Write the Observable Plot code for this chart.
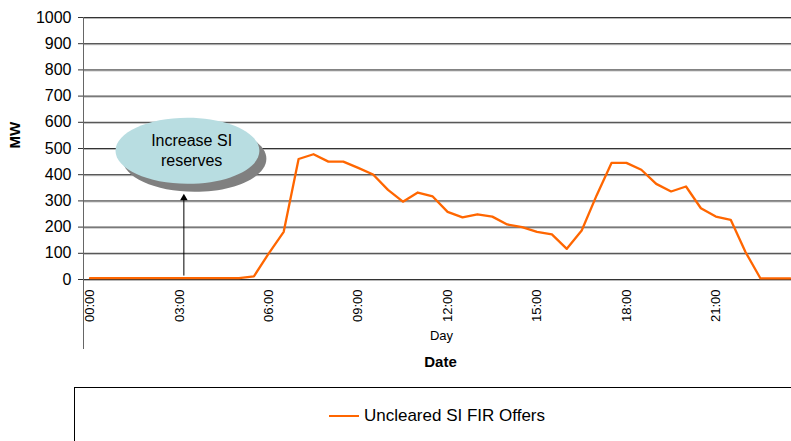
<!DOCTYPE html>
<html>
<head>
<meta charset="utf-8">
<script src="https://cdn.jsdelivr.net/npm/d3@7"></script>
<script src="https://cdn.jsdelivr.net/npm/@observablehq/plot@0.6"></script>
<style>
  html, body { margin: 0; padding: 0; background: #fff; }
  body { width: 791px; height: 441px; overflow: hidden; position: relative;
         font-family: "Liberation Sans", Arial, sans-serif; color: #000; }
  #chart svg { display: block; }
  #legend { position: absolute; left: 74px; top: 387px; width: 726px; height: 80px;
            border: 1px solid #000; box-sizing: border-box; }
  #legend .item { position: absolute; left: 0; right: 0; top: 18px; height: 20px;
                  display: flex; justify-content: center; align-items: center; }
  #legend .swatch { width: 30px; height: 0; border-top: 2.5px solid #ff6600; margin-right: 5px; }
  #legend .label { font-size: 17px; line-height: 20px; }
</style>
</head>
<body>
<div id="chart"></div>
<div id="legend"><div class="item"><span class="swatch"></span><span class="label" id="legendLabel"></span></div></div>
<script>
// ---- data ----
const seriesName = "Uncleared SI FIR Offers";
const times = ["00:00","00:30","01:00","01:30","02:00","02:30","03:00","03:30","04:00","04:30",
               "05:00","05:30","06:00","06:30","07:00","07:30","08:00","08:30","09:00","09:30",
               "10:00","10:30","11:00","11:30","12:00","12:30","13:00","13:30","14:00","14:30",
               "15:00","15:30","16:00","16:30","17:00","17:30","18:00","18:30","19:00","19:30",
               "20:00","20:30","21:00","21:30","22:00","22:30","23:00","23:30"];
const offersMW = [5,5,5,5,5,5,5,5,5,5,
                  5,12,100,182,460,478,450,450,426,401,
                  342,297,332,317,258,237,249,240,210,200,
                  182,172,117,187,321,445,445,419,365,336,
                  355,272,240,228,104,4,4,4];
const yTicks = [0,100,200,300,400,500,600,700,800,900,1000];
const xTickLabels = ["00:00","03:00","06:00","09:00","12:00","15:00","18:00","21:00"];
const yTitle = "MW";
const xSubTitle = "Day";
const xTitle = "Date";
// annotation
const noteLabel = "Increase SI\nreserves";
const noteBubble = [{hour: 3.27, mw: 491}];
const noteTextPos = [{hour: 3.41, mw: 497, label: noteLabel}];
const noteArrow = [{hour: 3.15, from: 15, to: 311}];

// ---- build ----
const toHour = s => { const [h, m] = s.split(":").map(Number); return h + m / 60; };
const data = times.map((t, i) => ({hour: toHour(t), mw: offersMW[i]}));
const tickHours = xTickLabels.map(toHour);
const labelOf = new Map(xTickLabels.map(s => [toHour(s), s]));
const xDomain = [-0.218, 23.54];

const ellipse = {
  draw(ctx, size) {
    const r = Math.sqrt(size / Math.PI), rx = r * 2.18, ry = r, k = 0.5523;
    ctx.moveTo(rx, 0);
    ctx.bezierCurveTo(rx, ry * k, rx * k, ry, 0, ry);
    ctx.bezierCurveTo(-rx * k, ry, -rx, ry * k, -rx, 0);
    ctx.bezierCurveTo(-rx, -ry * k, -rx * k, -ry, 0, -ry);
    ctx.bezierCurveTo(rx * k, -ry, rx, -ry * k, rx, 0);
    ctx.closePath();
  }
};

const chart = Plot.plot({
  width: 791, height: 385,
  marginLeft: 83, marginRight: 0, marginTop: 17, marginBottom: 106,
  style: {fontFamily: '"Liberation Sans", Arial, sans-serif', color: "#000", background: "#fff", overflow: "visible"},
  x: {domain: xDomain},
  y: {domain: [0, 1000]},
  marks: [
    Plot.ruleY(yTicks, {stroke: "#b8b8b8", dy: 1}),
    Plot.ruleY(yTicks, {stroke: "#333"}),
    Plot.ruleX([xDomain[0]], {y1: 1000, y2: 0, insetBottom: -70, stroke: "#666"}),
    Plot.axisY({ticks: yTicks, tickFormat: d => String(d), tickSize: 5, tickPadding: 7, fontSize: 16, label: null, stroke: "#333"}),
    Plot.axisX({ticks: tickHours, tickFormat: d => labelOf.get(d), tickRotate: -90, tickSize: 0,
                tickPadding: 10, fontSize: 13, label: null}),
    Plot.line(data, {x: "hour", y: "mw", stroke: "#ff6600", strokeWidth: 2.3}),
    // annotation arrow
    Plot.link(noteArrow, {x1: "hour", x2: "hour", y1: "from", y2: "to", stroke: "#000", strokeWidth: 1}),
    Plot.dot(noteArrow, {x: "hour", y: "to", symbol: "triangle", r: 2.8, fill: "#000", stroke: null}),
    // bubble shadow + bubble
    Plot.dot(noteBubble, {x: "hour", y: "mw", symbol: ellipse, r: 33, fill: "#808080", stroke: null, dx: 7, dy: 8}),
    Plot.dot(noteBubble, {x: "hour", y: "mw", symbol: ellipse, r: 33, fill: "#b8dde1", stroke: null}),
    Plot.text(noteTextPos, {x: "hour", y: "mw", text: "label", fontSize: 16, lineHeight: 1.25, fill: "#000"}),
    // titles
    Plot.text([xSubTitle], {frameAnchor: "bottom", dy: 60, dx: 4, fontSize: 13}),
    Plot.text([xTitle], {frameAnchor: "bottom", dy: 87, dx: 3, fontSize: 15, fontWeight: "bold"}),
    Plot.text([yTitle], {frameAnchor: "left", dx: -68, rotate: -90, fontSize: 15, fontWeight: "bold"})
  ]
});
document.getElementById("chart").appendChild(chart);
document.getElementById("legendLabel").textContent = seriesName;
</script>
</body>
</html>
